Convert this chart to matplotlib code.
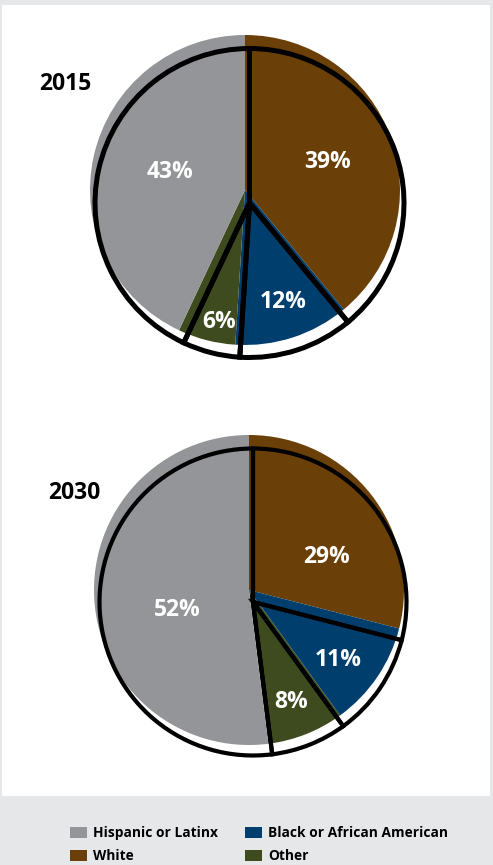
import matplotlib
matplotlib.use('Agg')
import matplotlib.pyplot as plt
from matplotlib.patches import Rectangle
import numpy as np

# ---- data ----
categories = ['White', 'Black or African American', 'Other', 'Hispanic or Latinx']
years = ['2015', '2030']
shares_2015 = [39, 12, 6, 43]
shares_2030 = [29, 11, 8, 52]
colors = ['#6b4008', '#003f6d', '#3e4b1f', '#939598']
legend_order = ['Hispanic or Latinx', 'White', 'Black or African American', 'Other']

# ---- layout (pixel space) ----
W, H = 493, 865
FONT = 'Open Sans'
layouts = {
    '2015': dict(fill_c=(245, 190), fill_r=155, out_c=(249.5, 203), out_r=154.5, lw=3.6,
                 title_xy=(39, 84),
                 label_off=[(83, -28), (38, 112), (-26, 132), (-75, -18)]),
    '2030': dict(fill_c=(249, 590), fill_r=155, out_c=(253, 602), out_r=153.5, lw=3.0,
                 title_xy=(48, 493),
                 label_off=[(78, -33), (89, 70), (42, 112), (-72, 20)]),
}
data = {'2015': shares_2015, '2030': shares_2030}

fig = plt.figure(figsize=(W / 100, H / 100), dpi=100, facecolor='#e6e7e8')
ax = fig.add_axes([0, 0, 1, 1])
ax.set_facecolor('#e6e7e8')
ax.add_patch(Rectangle((2, H - 796), 488, 791, facecolor='white', edgecolor='none', zorder=0))

fill_wedges = None
for yr in years:
    L = layouts[yr]
    vals = data[yr]
    fc = (L['fill_c'][0], H - L['fill_c'][1])
    oc = (L['out_c'][0], H - L['out_c'][1])
    wedges, _ = ax.pie(vals, colors=colors, startangle=90, counterclock=False,
                       center=fc, radius=L['fill_r'],
                       wedgeprops=dict(linewidth=0, edgecolor='none'))
    for w in wedges:
        w.set_zorder(2)
    if fill_wedges is None:
        fill_wedges = wedges
    owedges, _ = ax.pie(vals, startangle=90, counterclock=False,
                        center=oc, radius=L['out_r'],
                        wedgeprops=dict(fill=False, edgecolor='black', linewidth=L['lw']))
    for w in owedges:
        w.set_zorder(3)
    for v, (dx, dy) in zip(vals, L['label_off']):
        ax.text(fc[0] + dx, fc[1] - dy, f'{v}%', color='white', fontsize=16.5,
                fontweight='bold', family=FONT, ha='center', va='center', zorder=5)
    ax.text(L['title_xy'][0], H - L['title_xy'][1], yr, color='black', fontsize=16.5,
            fontweight='bold', family=FONT, ha='left', va='center', zorder=5)

handle_map = dict(zip(categories, fill_wedges))
handles = [handle_map[c] for c in legend_order]
leg = ax.legend(handles, legend_order, ncol=2, loc='upper left',
                bbox_to_anchor=(70, H - 826), bbox_transform=ax.transData,
                frameon=False, borderpad=0, borderaxespad=0,
                handlelength=1.2, handleheight=0.9, handletextpad=0.45,
                columnspacing=2.0, labelspacing=0.68,
                prop=dict(family=FONT, weight='bold', size=9.9))

ax.set_xlim(0, W)
ax.set_ylim(0, H)
ax.set_aspect('auto')
ax.axis('off')
fig.savefig('out.png', dpi=100, facecolor=fig.get_facecolor())
